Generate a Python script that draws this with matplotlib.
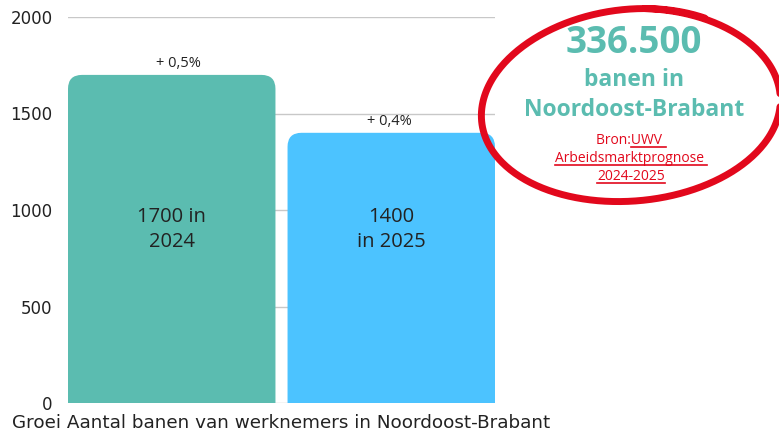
import numpy as np
import matplotlib
matplotlib.use("Agg")
import matplotlib.pyplot as plt
from matplotlib.path import Path
from matplotlib.patches import PathPatch
from matplotlib.lines import Line2D

# data
jaren = ["2024", "2025"]
banen = [1700, 1400]
groei = ["+ 0,5%", "+ 0,4%"]
bar_labels = ["1700 in\n2024", "1400\nin 2025"]
yticks = [0, 500, 1000, 1500, 2000]
kleuren = ["#5bbcb0", "#4cc3ff"]

plt.rcParams['font.family'] = ['Open Sans', 'DejaVu Sans']

W, H = 779, 434
fig = plt.figure(figsize=(W / 100, H / 100), dpi=100)
ax = fig.add_axes([68 / W, 1 - 403 / H, (495 - 68) / W, (403 - 17) / H])

bw = 0.945
x = np.arange(len(banen))
ax.set_xlim(-bw / 2, len(banen) - 1 + bw / 2)
ax.set_ylim(0, 2000)
ax.set_yticks(yticks)
ax.set_yticklabels([str(t) for t in yticks], fontsize=12, color="#222222",
                   family="DejaVu Sans")
ax.set_xticks([])
ax.tick_params(axis="y", length=0, pad=11)
for s in ax.spines.values():
    s.set_visible(False)
ax.grid(axis="y", color="#c8c8c8", linewidth=1)
ax.set_axisbelow(True)

# afgeronde staven
px_x = (ax.get_xlim()[1] - ax.get_xlim()[0]) / 427
px_y = 2000 / 386
r = 14
bars = ax.bar(x, banen, width=bw, color="none")
for b, c in zip(bars, kleuren):
    x0, x1 = b.get_x(), b.get_x() + b.get_width()
    h = b.get_height()
    rx, ry = r * px_x, r * px_y
    verts = [(x0, 0), (x0, h - ry), (x0, h), (x0 + rx, h),
             (x1 - rx, h), (x1, h), (x1, h - ry), (x1, 0), (x0, 0)]
    codes = [Path.MOVETO, Path.LINETO, Path.CURVE3, Path.CURVE3,
             Path.LINETO, Path.CURVE3, Path.CURVE3, Path.LINETO, Path.CLOSEPOLY]
    ax.add_patch(PathPatch(Path(verts, codes), facecolor=c, edgecolor="none", zorder=2))

for i, (xi, v, g, lab) in enumerate(zip(x, banen, groei, bar_labels)):
    dx = 7 if i == 0 else -2
    ax.annotate(g, (xi, v), xytext=(dx, 4), textcoords="offset pixels",
                ha="center", va="bottom", fontsize=10.5, color="#222222")
    ax.text(xi, 900, lab, ha="center", va="center", fontsize=14.5,
            color="#222222", linespacing=1.35)

fig.text(12 / W, 1 - 423 / H, "Groei Aantal banen van werknemers in Noordoost-Brabant",
         fontsize=13.2, color="#222222", va="center", ha="left", family="DejaVu Sans")

# rode cirkel
t = np.linspace(0, 2 * np.pi * 1.07, 400)
cx, cy = 631, 107
a = 147 + 4 * np.sin(t * 0.5)
b_ = 98 - 4 * np.sin(t * 0.5)
rot = np.deg2rad(-5)
ang = t - np.pi / 2 + 0.15
ex = a * np.cos(ang)
ey = b_ * np.sin(ang)
px = cx + ex * np.cos(rot) - ey * np.sin(rot)
py = cy + ex * np.sin(rot) + ey * np.cos(rot)
fig.add_artist(Line2D(px / W, 1 - py / H, color="#e2081c", linewidth=5,
                      solid_capstyle="round", transform=fig.transFigure))

teal = "#5bbcb0"
fig.text(634 / W, 1 - 43 / H, "336.500", ha="center", va="center", fontsize=26.5,
         fontweight="bold", color=teal)
fig.text(634 / W, 1 - 80 / H, "banen in", ha="center", va="center", fontsize=16.5,
         fontweight="bold", color=teal)
fig.text(634 / W, 1 - 110 / H, "Noordoost-Brabant", ha="center", va="center",
         fontsize=16.5, fontweight="bold", color=teal)

rood = "#e2081c"
bron = [("Bron:", "UWV "), ("", "Arbeidsmarktprognose "), ("", "2024-2025")]
ys = [141, 159, 177]
fig.canvas.draw()
rend = fig.canvas.get_renderer()
for (pre, ul), yy in zip(bron, ys):
    full = fig.text(631 / W, 1 - yy / H, pre + ul, ha="center", va="center",
                    fontsize=10, color=rood)
    bb = full.get_window_extent(rend)
    if pre:
        tmp = fig.text(0, 0, pre, fontsize=10)
        wpre = tmp.get_window_extent(rend).width
        tmp.remove()
    else:
        wpre = 0
    x0 = bb.x0 + wpre
    x1 = bb.x1
    yl = bb.y0 + 2
    fig.add_artist(Line2D([x0 / W, x1 / W], [yl / H, yl / H], color=rood,
                          linewidth=1.2, transform=fig.transFigure))

fig.savefig("out.png", dpi=100)
